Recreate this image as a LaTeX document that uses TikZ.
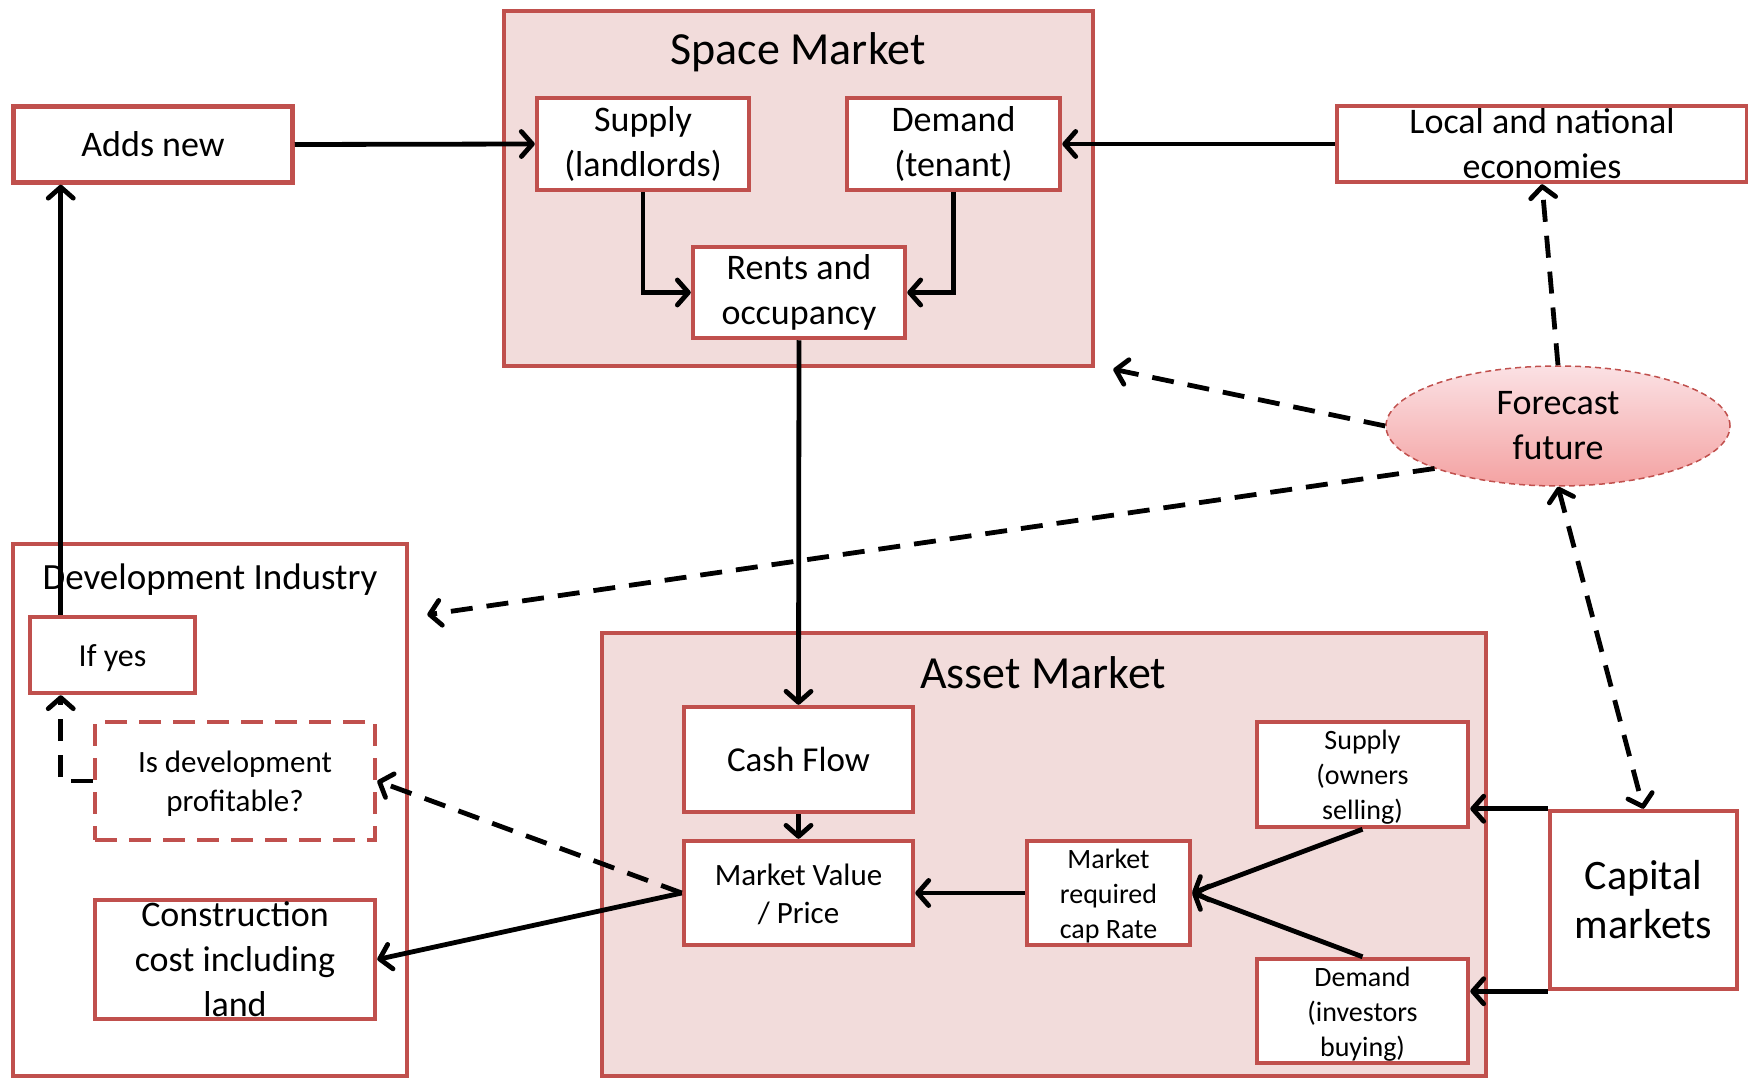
\documentclass[tikz,border=0pt]{standalone}
\usepackage{fontspec}
\setmainfont{Carlito}
\usetikzlibrary{arrows.meta,shapes.geometric,calc}
\newcommand{\setfs}[2]{\fontsize{#1}{#2}\selectfont}
\definecolor{boxred}{HTML}{C0504D}
\definecolor{panel}{HTML}{F2DCDB}
\definecolor{pinktop}{HTML}{FBE1E4}
\definecolor{pinkbot}{HTML}{F4A2A2}
\begin{document}
\begin{tikzpicture}[x=1pt,y=-1pt,
  panelbox/.style={draw=boxred, line width=4.5pt, fill=panel, inner sep=0pt},
  box/.style={draw=boxred, line width=4.5pt, fill=white, inner sep=0pt},
  dbox/.style={box, dash pattern=on 22pt off 12pt},
  lbl/.style={align=center, inner sep=0pt},
  slbl/.style={lbl, yshift=-3pt},
  tip/.tip={Straight Barb[length=11pt,width=25pt,round]},
  arr/.style={line width=4.8pt, -tip},
  darr/.style={arr, dash pattern=on 22pt off 14pt},
]
\useasboundingbox (0,0) rectangle (1748,1078);

% ---- Space market panel ----
\node[panelbox, minimum width=589, minimum height=355] (spaceM) at (798.5,188.5) {};
\node[font=\setfs{46}{55}, anchor=base, inner sep=0pt] (spaceT) at (798,65) {Space Market};
\node[box, minimum width=212, minimum height=92,
  label={[lbl,font=\setfs{36}{45}]center:Supply\\(landlords)}] (supL) at (643,144) {};
\node[box, minimum width=213, minimum height=92,
  label={[lbl,font=\setfs{36}{45}]center:Demand\\(tenant)}] (demT) at (953.5,144) {};
\node[box, minimum width=212, minimum height=91,
  label={[lbl,font=\setfs{36}{45}]center:Rents and\\occupancy}] (rents) at (799,292.5) {};

% ---- outside boxes, top row ----
\node[box, minimum width=279, minimum height=76,
  label={[lbl,font=\setfs{36}{45}]center:Adds new}] (adds) at (153,144.5) {};
\node[box, minimum width=410, minimum height=76,
  label={[lbl,font=\setfs{36}{45}]center:Local and national\\economies}] (local) at (1542,144) {};

% ---- forecast ellipse ----
\node[ellipse, minimum width=344, minimum height=120, inner sep=0pt,
  top color=pinktop, bottom color=pinkbot, draw=boxred, line width=1.5pt,
  dash pattern=on 6pt off 4pt,
  label={[lbl,font=\setfs{36}{45}]center:Forecast\\future}] (fore) at (1558,426) {};

% ---- development industry panel ----
\node[box, minimum width=394, minimum height=532] (devInd) at (210,810) {};
\node[font=\setfs{37}{45}, anchor=base, inner sep=0pt] (devT) at (210,589) {Development Industry};
\node[box, minimum width=165, minimum height=76,
  label={[slbl,font=\setfs{32}{40}]center:If yes}] (ifyes) at (112.5,655) {};
\node[dbox, minimum width=280, minimum height=118,
  label={[slbl,font=\setfs{31}{39}]center:Is development\\profitable?}] (isdev) at (235,781) {};
\node[box, minimum width=280, minimum height=119,
  label={[lbl,font=\setfs{36}{45}]center:Construction\\cost including\\land}] (constr) at (235,959.5) {};

% ---- asset market panel ----
\node[panelbox, minimum width=884, minimum height=443] (assetM) at (1044,854.5) {};
\node[font=\setfs{46}{55}, anchor=base, inner sep=0pt] (assetT) at (1043,688) {Asset Market};
\node[box, minimum width=229, minimum height=105,
  label={[lbl,font=\setfs{35}{44}]center:Cash Flow}] (cash) at (798.5,759.5) {};
\node[box, minimum width=229, minimum height=104,
  label={[lbl,yshift=-1pt,font=\setfs{31}{38}]center:Market Value\\/ Price}] (mv) at (798.5,893) {};
\node[box, minimum width=163, minimum height=104,
  label={[slbl,font=\setfs{28}{35}]center:Market\\required\\cap Rate}] (mreq) at (1108.5,893) {};
\node[box, minimum width=211, minimum height=105,
  label={[slbl,font=\setfs{28}{35}]center:Supply\\(owners\\selling)}] (supO) at (1362.5,774.5) {};
\node[box, minimum width=211, minimum height=104,
  label={[slbl,font=\setfs{28}{35}]center:Demand\\(investors\\buying)}] (demI) at (1362.5,1011) {};
\node[box, minimum width=187, minimum height=178,
  label={[lbl,font=\setfs{42}{49}]center:Capital\\markets}] (cap) at (1643.5,900) {};

% ---- solid connectors ----
\draw[arr] (adds.east) -- (supL.west);
\draw[arr] (local.west) -- (demT.east);
\draw[arr] (supL.south) |- (rents.west);
\draw[arr] (demT.south) |- (rents.east);
\draw[arr] (rents.south) -- (cash.north);
\draw[arr] (cash.south) -- (mv.north);
\draw[arr] (mreq.west) -- (mv.east);
\draw[arr] (supO.south) -- (mreq.east);
\draw[arr] (demI.north) -- (mreq.east);
\draw[arr] (cap.north west) -- (cap.north west -| supO.east);
\draw[arr] (cap.south west) -- (cap.south west -| demI.east);
\draw[arr] (mv.west) -- (constr.east);
\coordinate (rise) at ($(ifyes.north west)+(33,0)$);
\draw[arr] (rise) -- (rise |- adds.south);

% ---- dashed connectors ----
\draw[darr] (mv.west) -- (isdev.east);
\draw[darr] (isdev.west) -| (rise |- ifyes.south);
\coordinate (smTip) at ($(spaceM.south east)+(18,1)$);
\coordinate (diTip) at ($(devInd.north east)+(18,73)$);
\draw[darr] (fore.west) -- (smTip);
\draw[darr] (fore.199) -- (diTip);
\draw[darr] (fore.north) -- (local.south);
\draw[darr, tip-tip] (fore.south) -- (cap.north);
\end{tikzpicture}
\end{document}
